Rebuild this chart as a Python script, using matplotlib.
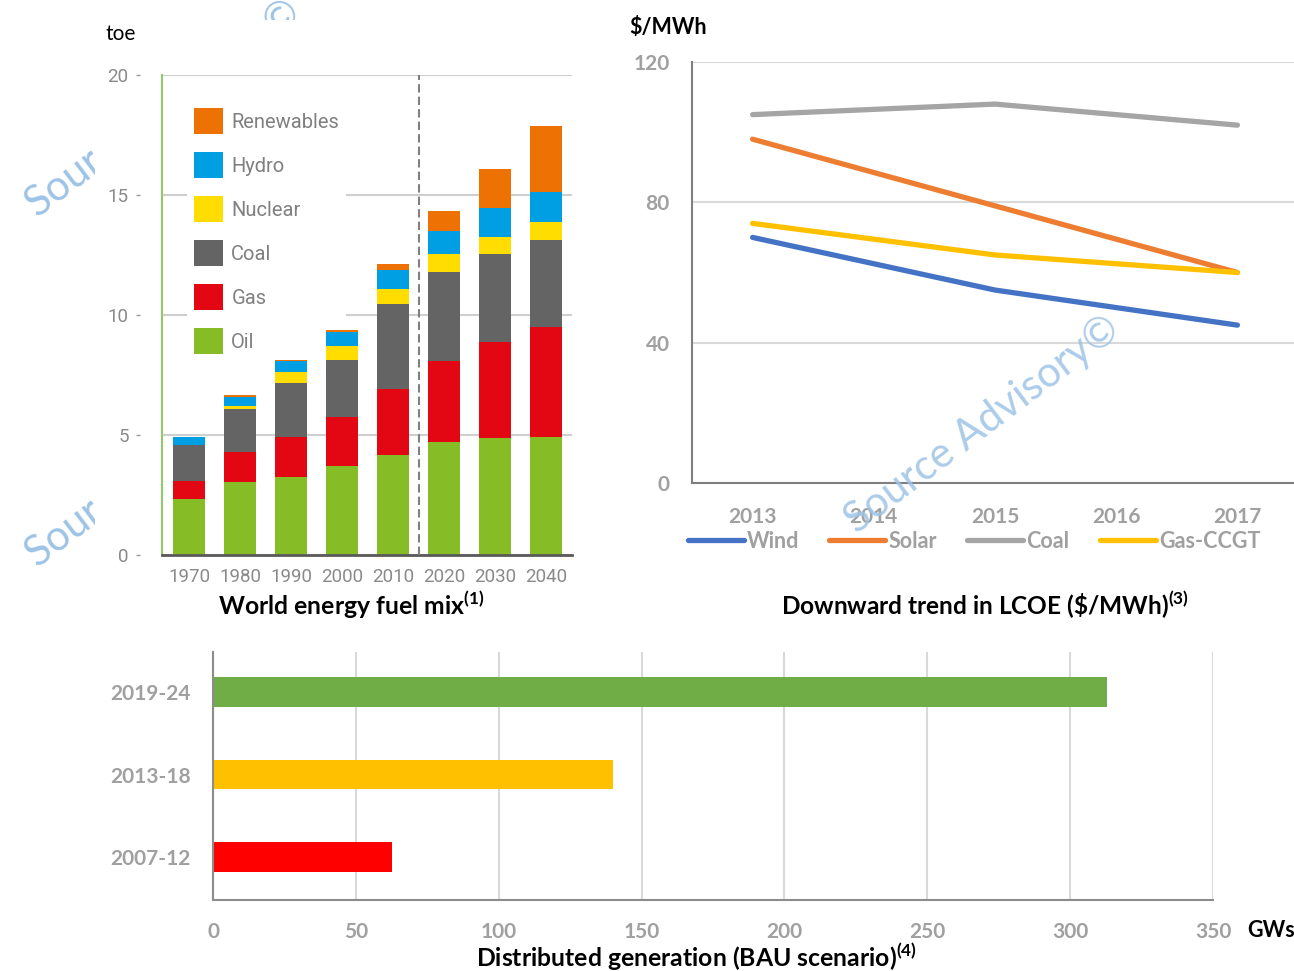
import numpy as np
import matplotlib.pyplot as plt
from matplotlib.patches import Rectangle

plt.rcParams['font.family'] = ['Lato', 'DejaVu Sans']
plt.rcParams['mathtext.fontset'] = 'custom'
plt.rcParams['mathtext.rm'] = 'Lato'
plt.rcParams['mathtext.bf'] = 'Lato:bold'

# World energy fuel mix (toe), stacked from the bottom
years = ['1970', '1980', '1990', '2000', '2010', '2020', '2030', '2040']
oil = [2.33, 3.05, 3.24, 3.69, 4.15, 4.72, 4.86, 4.93]
gas = [0.77, 1.23, 1.69, 2.07, 2.78, 3.36, 4.00, 4.57]
coal = [1.48, 1.80, 2.24, 2.38, 3.53, 3.72, 3.67, 3.62]
nuclear = [0.02, 0.12, 0.47, 0.58, 0.64, 0.73, 0.71, 0.77]
hydro = [0.33, 0.40, 0.44, 0.58, 0.79, 0.97, 1.23, 1.22]
renewables = [0.00, 0.05, 0.06, 0.07, 0.25, 0.83, 1.60, 2.78]
fuel_names = ['Oil', 'Gas', 'Coal', 'Nuclear', 'Hydro', 'Renewables']
fuel_colors = ['#86BC25', '#E30613', '#646464', '#FFDD00', '#009FE3', '#EE7203']

# LCOE ($/MWh) - values only given for 2013, 2015 and 2017
lcoe_years = ['2013', '2014', '2015', '2016', '2017']
lcoe_pos = [0, 2, 4]
wind = [70, 55, 45]
solar = [98, 79, 60]
coal_lcoe = [105, 108, 102]
gas_ccgt = [74, 65, 60]

# Distributed generation (GWs)
periods = ['2007-12', '2013-18', '2019-24']
gws = [62.5, 140, 313]
period_colors = ['#FF0000', '#FFC000', '#70AD47']

W, H = 1294, 971
fig = plt.figure(figsize=(W / 100, H / 100), dpi=100)


def fx(x):
    return x / W


def fy(y):
    return 1 - y / H


grey = '#a0a0a0'
wm_color = '#9DC3E6'

# partial watermarks on the left, hidden behind the first chart
fig.text(fx(38), fy(218), 'Source Advisory©', rotation=37, rotation_mode='anchor',
         ha='left', va='baseline', fontsize=30, color=wm_color, zorder=-2)
fig.text(fx(38), fy(568), 'Source Advisory©', rotation=37, rotation_mode='anchor',
         ha='left', va='baseline', fontsize=30, color=wm_color, zorder=-2)
fig.patches.append(Rectangle((fx(95), fy(625)), fx(590) - fx(95), fy(20) - fy(625),
                             transform=fig.transFigure, facecolor='white',
                             edgecolor='none', zorder=-1))

# ---- chart 1: stacked bars ----
ax1 = fig.add_axes([fx(162), fy(555), 410 / W, 480 / H])
x = np.arange(len(years))
bottom = np.zeros(len(years))
bars = []
for vals, col, name in zip([oil, gas, coal, nuclear, hydro, renewables], fuel_colors, fuel_names):
    b = ax1.bar(x, vals, 0.61, bottom=bottom, color=col, label=name, zorder=2)
    bottom += np.array(vals)
    bars.append(b)
ax1.set_xlim(-0.53, 7.51)
ax1.set_ylim(0, 20)
ax1.axvline(4.5, color='#808080', ls=(0, (4, 2)), lw=1.5, zorder=3)
ax1.set_yticks([0, 5, 10, 15, 20])
ax1.set_xticks(x, years)
ax1.yaxis.grid(True, color='#cfcfcf', lw=1.5)
ax1.set_axisbelow(True)
ax1.tick_params(axis='y', length=0, pad=24, labelcolor='#8a8a8a')
ax1.tick_params(axis='x', length=0, pad=9, labelcolor='#8a8a8a')
plt.setp(ax1.get_xticklabels() + ax1.get_yticklabels(), family='Roboto', size=13.5)
for s in ['top', 'right']:
    ax1.spines[s].set_visible(False)
ax1.spines['left'].set_color('#92c86a')
ax1.spines['left'].set_linewidth(1.5)
ax1.spines['bottom'].set_color('#5a5a5a')
ax1.spines['bottom'].set_linewidth(2)

# small detached tick dashes next to the y labels
sec = ax1.secondary_yaxis(-0.054)
sec.set_yticks([0, 5, 10, 15, 20])
sec.tick_params(length=3, width=1, color='#999999', labelleft=False)
sec.spines['left'].set_visible(False)

leg1 = ax1.legend(bars[::-1], fuel_names[::-1], loc='upper left',
                  bbox_to_anchor=(fx(187), fy(101)), bbox_transform=fig.transFigure,
                  frameon=True, facecolor='white', edgecolor='none', framealpha=1,
                  fancybox=False, borderpad=0.35, borderaxespad=0,
                  handlelength=1.45, handleheight=1.6, handletextpad=0.4,
                  labelspacing=0.9, prop={'family': 'Roboto', 'size': 14.5})
leg1.set_zorder(1.5)  # white box hides gridlines but sits under the bars
for t in leg1.get_texts():
    t.set_color('#808080')

fig.text(fx(105), fy(34), 'toe', ha='left', va='center', fontsize=15)
fig.text(fx(351), fy(605), r'World energy fuel mix$^{\mathbf{(1)}}$', ha='center',
         va='center', fontsize=17.8, weight='bold')

# ---- chart 2: LCOE lines ----
ax2 = fig.add_axes([fx(692), fy(483), 606 / W, 421 / H])
for vals, col, name in [(wind, '#4472C4', 'Wind'), (solar, '#ED7D31', 'Solar'),
                        (coal_lcoe, '#A5A5A5', 'Coal'), (gas_ccgt, '#FFC000', 'Gas-CCGT')]:
    ax2.plot(lcoe_pos, vals, color=col, lw=3.8, solid_capstyle='round', label=name)
ax2.set_xlim(-0.5, 4.5)
ax2.set_ylim(0, 120)
ax2.set_xticks(range(len(lcoe_years)), lcoe_years)
ax2.set_yticks([0, 40, 80, 120])
ax2.yaxis.grid(True, color='#d9d9d9', lw=1.5)
ax2.set_axisbelow(True)
ax2.tick_params(axis='y', length=0, pad=16, labelcolor=grey, labelsize=15)
ax2.tick_params(axis='x', length=0, pad=17, labelcolor=grey, labelsize=15)
plt.setp(ax2.get_xticklabels() + ax2.get_yticklabels(), weight='bold')
for s in ['top', 'right']:
    ax2.spines[s].set_visible(False)
for s in ['left', 'bottom']:
    ax2.spines[s].set_color('#7f7f7f')
    ax2.spines[s].set_linewidth(1.5)
leg2 = ax2.legend(ncol=4, loc='center', bbox_to_anchor=(fx(974), fy(541)),
                  bbox_transform=fig.transFigure, frameon=False, handlelength=2.6,
                  handletextpad=0.15, columnspacing=1.4,
                  prop={'weight': 'bold', 'size': 15.5})
for t in leg2.get_texts():
    t.set_color(grey)

fig.text(fx(629), fy(28), r'\$/MWh', ha='left', va='center', fontsize=15.5, weight='bold')
fig.text(fx(985), fy(605), r'Downward trend in LCOE (\$/MWh)$^{\mathbf{(3)}}$',
         ha='center', va='center', fontsize=17.6, weight='bold')

# ---- chart 3: horizontal bars ----
ax3 = fig.add_axes([fx(213), fy(900), 1000 / W, 248 / H])
ax3.barh(range(len(periods)), gws, height=0.36, color=period_colors, zorder=2)
ax3.set_xlim(0, 350)
ax3.set_ylim(-0.52, 2.485)
ax3.set_xticks(np.arange(0, 351, 50))
ax3.set_yticks(range(len(periods)), periods)
ax3.xaxis.grid(True, color='#d9d9d9', lw=1.5)
ax3.set_axisbelow(True)
ax3.tick_params(axis='y', length=0, pad=16, labelcolor=grey, labelsize=15)
ax3.tick_params(axis='x', length=0, pad=16, labelcolor=grey, labelsize=15)
plt.setp(ax3.get_xticklabels() + ax3.get_yticklabels(), weight='bold')
for s in ['top', 'right']:
    ax3.spines[s].set_visible(False)
for s in ['left', 'bottom']:
    ax3.spines[s].set_color('#8c8c8c')
    ax3.spines[s].set_linewidth(1.5)

fig.text(fx(1247), fy(930), 'GWs', ha='left', va='center', fontsize=15.5, weight='bold')
fig.text(fx(697), fy(957), r'Distributed generation (BAU scenario)$^{\mathbf{(4)}}$',
         ha='center', va='center', fontsize=17.8, weight='bold')

# main watermark across the LCOE chart
fig.text(fx(982), fy(425), 'Source Advisory©', rotation=37, rotation_mode='anchor',
         ha='center', va='center', fontsize=30, color=wm_color, alpha=0.85, zorder=10)

fig.savefig('out.png', dpi=100)
